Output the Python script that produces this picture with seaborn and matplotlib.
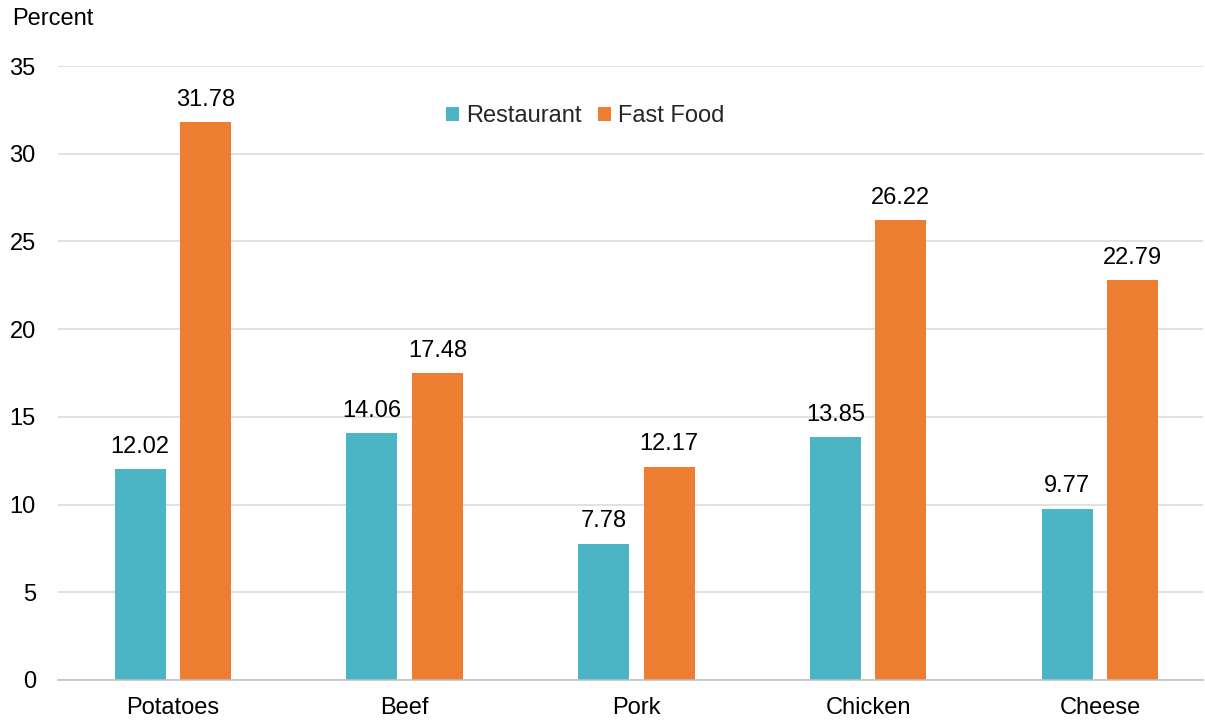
import matplotlib
matplotlib.use("Agg")
import matplotlib.pyplot as plt
import seaborn as sns
import pandas as pd

categories = ["Potatoes", "Beef", "Pork", "Chicken", "Cheese"]
restaurant = [12.02, 14.06, 7.78, 13.85, 9.77]
fast_food = [31.78, 17.48, 12.17, 26.22, 22.79]
series_names = ["Restaurant", "Fast Food"]
y_ticks = [0, 5, 10, 15, 20, 25, 30, 35]

df = pd.DataFrame({
    "category": categories * 2,
    "series": [series_names[0]] * len(categories) + [series_names[1]] * len(categories),
    "value": restaurant + fast_food,
})

sns.set_theme(style="white")
plt.rcParams['font.family'] = ['Liberation Sans', 'DejaVu Sans']

FS = 17
W, H = 1205, 723
fig = plt.figure(figsize=(W / 100, H / 100), dpi=100)
ax = fig.add_axes([58 / W, 43 / H, (1203 - 58) / W, 614 / H])

palette = {"Restaurant": "#4BB5C5", "Fast Food": "#ED7D31"}
sns.barplot(data=df, x="category", y="value", hue="series", palette=palette,
            width=0.565, gap=0.22, ax=ax, saturation=1, legend=True, linewidth=0)

for c in ax.containers:
    ax.bar_label(c, fmt="%.2f", padding=8, fontsize=FS, color="#000000")

ax.set_ylim(0, 35)
ax.set_xlim(-0.496, -0.496 + 1145 / 231.75)
ax.set_yticks(y_ticks)
ax.set_yticklabels([str(t) for t in y_ticks])
ax.yaxis.grid(True, color="#D9D9D9", linewidth=1.1)
ax.set_axisbelow(True)
for s in ["left", "right", "top"]:
    ax.spines[s].set_visible(False)
ax.spines["bottom"].set_color("#BFBFBF")
ax.spines["bottom"].set_linewidth(1.1)
ax.tick_params(axis="y", length=0, pad=16, labelsize=FS, labelcolor="#000000")
ax.tick_params(axis="x", length=0, pad=12, labelsize=FS, labelcolor="#000000")
ax.set_xlabel("")
ax.set_ylabel("")

leg = ax.get_legend()
handles = leg.legend_handles
leg.remove()
fig.legend(handles, series_names, loc="center", bbox_to_anchor=(585 / W, 1 - 116 / H),
           ncol=2, frameon=False, fontsize=FS, handlelength=0.55, handleheight=0.55,
           handletextpad=0.3, columnspacing=0.7)

fig.text(12 / W, 1 - 19 / H, "Percent", fontsize=FS, ha="left", va="center", color="#000000")

fig.savefig("out.png", dpi=100)
